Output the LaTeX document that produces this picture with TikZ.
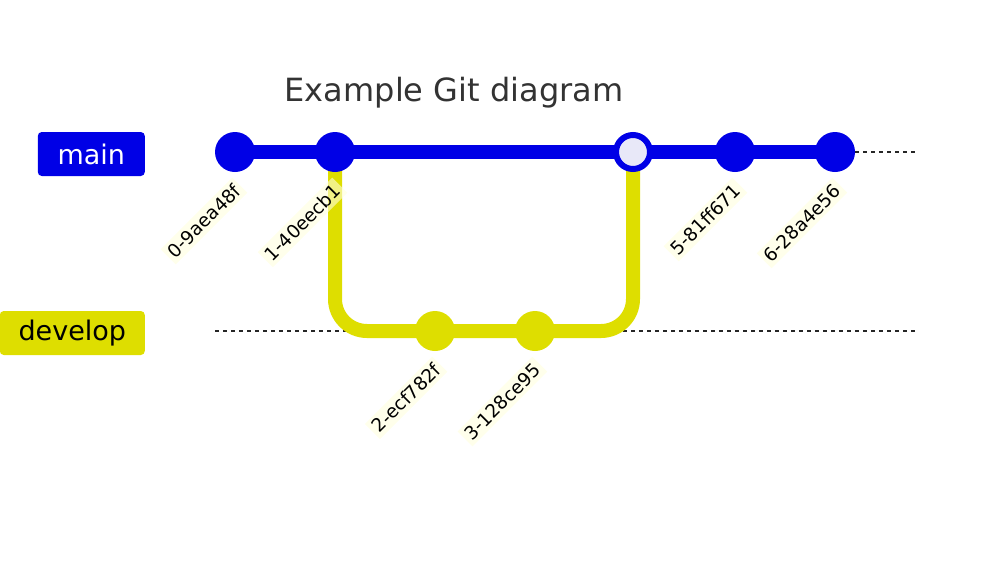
\documentclass[tikz,border=0pt]{standalone}
\usepackage{fontspec}
\setmainfont{DejaVu Sans}
\usetikzlibrary{positioning,backgrounds}
\definecolor{gitblue}{HTML}{0000E6}
\definecolor{gityellow}{HTML}{DEDE00}
\definecolor{mergefill}{HTML}{E8E8F8}
\definecolor{lblback}{HTML}{FFFFDE}
\definecolor{titlegray}{HTML}{333333}
\begin{document}
\begin{tikzpicture}[x=1pt, y=-1pt,
  commit/.style={circle, minimum size=40pt, inner sep=0pt},
  lbl/.style={fill=lblback, fill opacity=0.6, text opacity=1, font=\fontsize{18.5}{18.5}\selectfont, rotate=45, anchor=east, inner sep=3.5pt},
  branch/.style={rounded corners=4pt, minimum height=44pt, font=\fontsize{27}{27}\selectfont, anchor=east},
  lane/.style={dash pattern=on 4pt off 4pt, line width=1.5pt, black!85},
  mainline/.style={gitblue, line width=14pt},
  devline/.style={gityellow, line width=14pt, rounded corners=32pt}]
\useasboundingbox (0,0) rectangle (982,560);
\node (title) [text=titlegray, font=\fontsize{32}{32}\selectfont] at (454,93) {Example Git diagram};
\node (main) [branch, fill=gitblue, text=white, minimum width=107pt] at (145,154) {main};
\node (develop) [branch, fill=gityellow, text=black, minimum width=145pt] at (145,333) {develop};
\coordinate (ms) at (215,152); \coordinate (me) at (915,152);
\coordinate (ds) at (215,331); \coordinate (de) at (915,331);
% commits
\node (c0) [commit, fill=gitblue] at (235,152) {};
\node (c1) [commit, fill=gitblue] at (335,152) {};
\node (c2) [commit, fill=gityellow] at (435,331) {};
\node (c3) [commit, fill=gityellow] at (535,331) {};
\node (c4) [commit, fill=mergefill, draw=gitblue, line width=6pt, minimum size=34pt] at (633,152) {};
\node (c5) [commit, fill=gitblue] at (735,152) {};
\node (c6) [commit, fill=gitblue] at (835,152) {};
% commit labels
\node (l0) [lbl] at ([shift={(5,33)}]c0.center) {0-9aea48f};
\node (l1) [lbl] at ([shift={(5,33)}]c1.center) {1-40eecb1};
\node (l2) [lbl] at ([shift={(5,33)}]c2.center) {2-ecf782f};
\node (l3) [lbl] at ([shift={(5,33)}]c3.center) {3-128ce95};
\node (l5) [lbl] at ([shift={(5,33)}]c5.center) {5-81ff671};
\node (l6) [lbl] at ([shift={(5,33)}]c6.center) {6-28a4e56};
\begin{scope}[on background layer]
\draw[lane] (ms) -- (me);
\draw[lane] (ds) -- (de);
\draw[devline] (c1.center) |- (c2.center) -- (c3.center) -| (c4.center);
\draw[mainline] (c0.center) -- (c6.center);
\end{scope}
\end{tikzpicture}
\end{document}
